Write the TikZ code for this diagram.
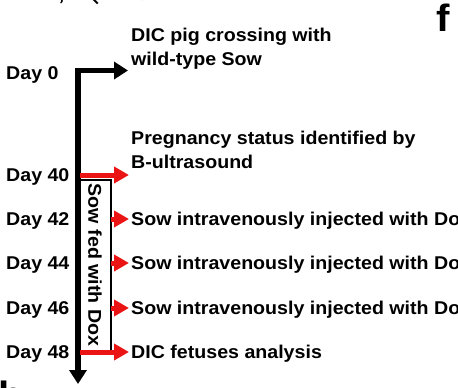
\documentclass[tikz,border=0pt]{standalone}
\usepackage{fontspec}
\setmainfont{Liberation Sans}[FakeStretch=1.06]
\usetikzlibrary{arrows.meta}
\definecolor{arrred}{RGB}{235,20,20}
\tikzset{
  lbl/.style={font=\bfseries\fontsize{18.5}{23.5}\selectfont, inner sep=0pt, anchor=base west},
  desc/.style={font=\bfseries\fontsize{18.5}{23.5}\selectfont, inner sep=0pt, anchor=base west, align=left},
  blk/.style={line width=5.5pt, draw=black, -{Triangle[length=14pt,width=17pt]}},
  redarr/.style={line width=5pt, draw=arrred, -{Triangle[length=15pt,width=16pt]}},
  box/.style={draw=black, line width=2pt},
  panel/.style={font=\bfseries\fontsize{38}{38}\selectfont, inner sep=0pt, anchor=base west},
  frag/.style={font=\bfseries\fontsize{14}{14}\selectfont, inner sep=0pt, rotate=45}
}
\begin{document}
\begin{tikzpicture}[x=1pt,y=-1pt]
\useasboundingbox (0,0) rectangle (458,388);
\clip (0,0) rectangle (458,388);
% fragments of cut text at top
\node[frag] (f1) at (60,-2) {y};
\node[frag] (f2) at (96,-1) {p};
\node[frag] (f3) at (141,-3) {r};
% panel letters
\node[panel] (pf) at (436,31) {f};
\node[panel] (pb) at (-2,408) {b};
% day labels
\node[lbl] (d0) at (6,79) {Day 0};
\node[lbl] (d40) at (6,181) {Day 40};
\node[lbl] (d42) at (6,225.5) {Day 42};
\node[lbl] (d44) at (6,269.5) {Day 44};
\node[lbl] (d46) at (6,314) {Day 46};
\node[lbl] (d48) at (6,358.5) {Day 48};
% descriptions
\node[desc] (t0) at (131,65) {DIC pig crossing with\\wild-type Sow};
\node[desc] (t40) at (131,168) {Pregnancy status identified by\\B-ultrasound};
\node[desc] (t42) at (131,225.5) {Sow intravenously injected with Dox};
\node[desc] (t44) at (131,269.5) {Sow intravenously injected with Dox};
\node[desc] (t46) at (131,314) {Sow intravenously injected with Dox};
\node[desc] (t48) at (131,358.5) {DIC fetuses analysis};
% coordinates
\coordinate (corner) at (78,68);
\coordinate (top) at (128,70.5);
\coordinate (bottom) at (78,384);
\coordinate (s40) at (80,175);
\coordinate (e40) at (129,175);
\coordinate (s48) at (80,352);
\coordinate (e48) at (129,352);
\coordinate (s42) at (111,219);
\coordinate (e42) at (129,219);
\coordinate (s44) at (111,263);
\coordinate (e44) at (129,263);
\coordinate (s46) at (111,308);
\coordinate (e46) at (129,308);
\coordinate (bx1) at (80,179.5);
\coordinate (bx2) at (111,352);
% box
\draw[box] (bx1) -| (bx2);
\node[font=\bfseries\fontsize{18.5}{18.5}\selectfont, rotate=-90, inner sep=0pt] (sfd) at (95,265) {Sow fed with Dox};
% main timeline
\draw[blk] (78,70.5) -- (top);
\draw[blk] (corner) -- (bottom);
% red arrows
\draw[redarr] (s40) -- (e40);
\draw[redarr] (s48) -- (e48);
\draw[redarr] (s42) -- (e42);
\draw[redarr] (s44) -- (e44);
\draw[redarr] (s46) -- (e46);
\end{tikzpicture}
\end{document}
